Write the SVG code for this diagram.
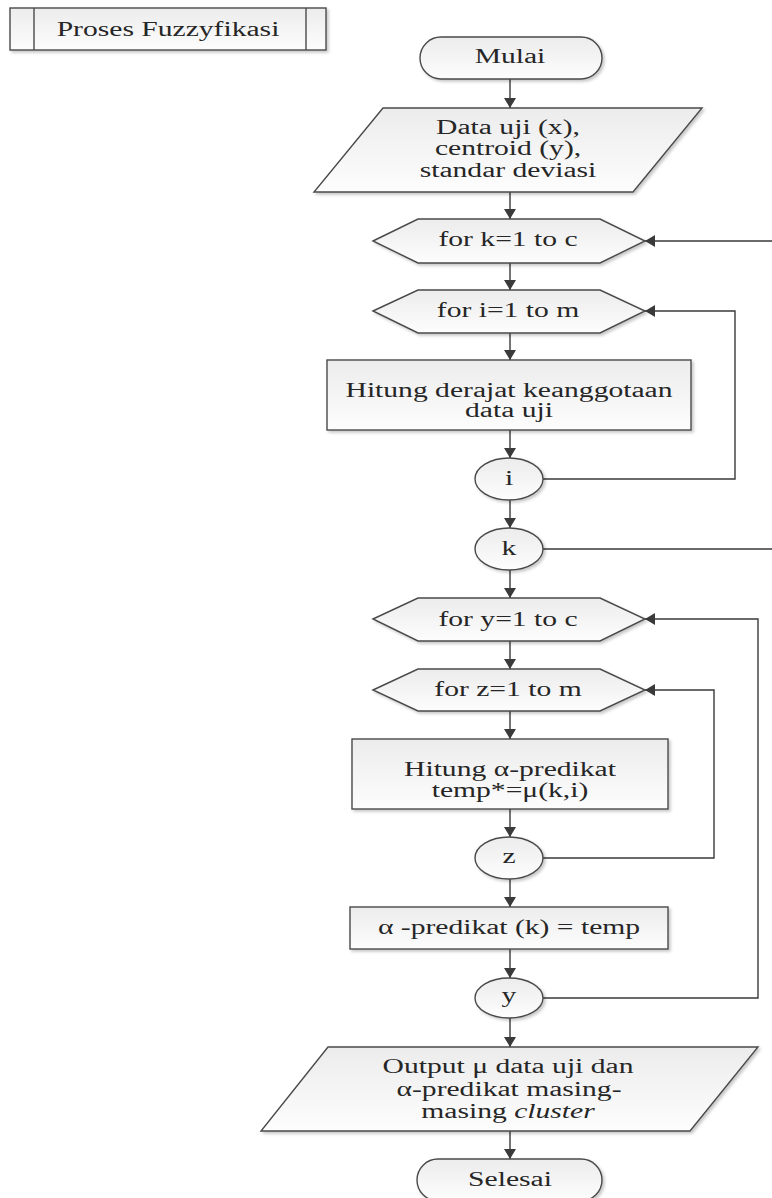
<svg xmlns="http://www.w3.org/2000/svg" width="772" height="1198" viewBox="0 0 772 1198">
<defs>
<linearGradient id="fillg" x1="0" y1="0" x2="0" y2="1">
<stop offset="0" stop-color="#ececec"/>
<stop offset="1" stop-color="#fdfdfd"/>
</linearGradient>
<filter id="sh" x="-10%" y="-20%" width="125%" height="150%">
<feDropShadow dx="2" dy="2" stdDeviation="1.5" flood-color="#000" flood-opacity="0.22"/>
</filter>
<marker id="arr" viewBox="0 0 10 12" refX="10" refY="6" markerWidth="10" markerHeight="12" markerUnits="userSpaceOnUse" orient="auto">
<path d="M0,0 L10,6 L0,12 z" fill="#3a3a3a"/>
</marker>
</defs>
<style>
.n{fill:url(#fillg);stroke:#4a4a4a;stroke-width:1.4;filter:url(#sh)}
.c{fill:none;stroke:#3a3a3a;stroke-width:1.4}
.t{font-family:"Liberation Serif","Times New Roman",serif;font-size:20px;fill:#262626;text-anchor:middle}
</style>
<rect width="772" height="1198" fill="#ffffff"/>

<g id="title">
<rect class="n" x="10" y="8" width="316" height="42"/>
<line x1="34" y1="8" x2="34" y2="50" stroke="#4a4a4a" stroke-width="1.4"/>
<line x1="306" y1="8" x2="306" y2="50" stroke="#4a4a4a" stroke-width="1.4"/>
<text class="t" transform="translate(168,36) scale(1.48,1)">Proses Fuzzyfikasi</text>
</g>

<g id="connectors">
<line class="c" x1="510" y1="79" x2="510" y2="108" marker-end="url(#arr)"/>
<line class="c" x1="510" y1="192" x2="510" y2="219" marker-end="url(#arr)"/>
<line class="c" x1="510" y1="263" x2="510" y2="290" marker-end="url(#arr)"/>
<line class="c" x1="510" y1="333" x2="510" y2="360" marker-end="url(#arr)"/>
<line class="c" x1="510" y1="430" x2="510" y2="458" marker-end="url(#arr)"/>
<line class="c" x1="510" y1="500" x2="510" y2="528" marker-end="url(#arr)"/>
<line class="c" x1="510" y1="570" x2="510" y2="598" marker-end="url(#arr)"/>
<line class="c" x1="510" y1="641" x2="510" y2="669" marker-end="url(#arr)"/>
<line class="c" x1="510" y1="711" x2="510" y2="739" marker-end="url(#arr)"/>
<line class="c" x1="510" y1="809" x2="510" y2="837" marker-end="url(#arr)"/>
<line class="c" x1="510" y1="879" x2="510" y2="907" marker-end="url(#arr)"/>
<line class="c" x1="510" y1="949" x2="510" y2="978" marker-end="url(#arr)"/>
<line class="c" x1="510" y1="1018" x2="510" y2="1047" marker-end="url(#arr)"/>
<line class="c" x1="510" y1="1131" x2="510" y2="1159" marker-end="url(#arr)"/>
<path class="c" d="M543,479 H735 V311 H645" marker-end="url(#arr)"/>
<path class="c" d="M543,549 H790 V241 H645" marker-end="url(#arr)"/>
<path class="c" d="M543,858 H714 V690 H645" marker-end="url(#arr)"/>
<path class="c" d="M543,998 H758 V619 H645" marker-end="url(#arr)"/>
</g>

<g id="mulai">
<rect class="n" x="420" y="37" width="182" height="42" rx="21"/>
<text class="t" transform="translate(510,63) scale(1.48,1)">Mulai</text>
</g>

<g id="input">
<polygon class="n" points="383,108 702,108 633,192 314,192"/>
<text class="t" transform="translate(508,134) scale(1.48,1)">Data uji (x),</text>
<text class="t" transform="translate(508,155) scale(1.48,1)">centroid (y),</text>
<text class="t" transform="translate(508,177) scale(1.48,1)">standar deviasi</text>
</g>

<g id="fork">
<polygon class="n" points="373,241 418,219 600,219 645,241 600,263 418,263"/>
<text class="t" transform="translate(508,246) scale(1.48,1)">for k=1 to c</text>
</g>

<g id="fori">
<polygon class="n" points="373,311 418,290 600,290 645,311 600,333 418,333"/>
<text class="t" transform="translate(508,317) scale(1.48,1)">for i=1 to m</text>
</g>

<g id="hitung1">
<rect class="n" x="327" y="360" width="364" height="70"/>
<text class="t" transform="translate(509,397) scale(1.48,1)">Hitung derajat keanggotaan</text>
<text class="t" transform="translate(509,417) scale(1.48,1)">data uji</text>
</g>

<g id="ci">
<ellipse class="n" cx="509" cy="479" rx="34" ry="21"/>
<text class="t" transform="translate(509,485) scale(1.48,1)">i</text>
</g>

<g id="ck">
<ellipse class="n" cx="509" cy="549" rx="34" ry="21"/>
<text class="t" transform="translate(509,555) scale(1.48,1)">k</text>
</g>

<g id="fory">
<polygon class="n" points="373,619 418,598 600,598 645,619 600,641 418,641"/>
<text class="t" transform="translate(508,626) scale(1.48,1)">for y=1 to c</text>
</g>

<g id="forz">
<polygon class="n" points="373,690 418,669 600,669 645,690 600,711 418,711"/>
<text class="t" transform="translate(508,696) scale(1.48,1)">for z=1 to m</text>
</g>

<g id="hitung2">
<rect class="n" x="352" y="739" width="316" height="70"/>
<text class="t" transform="translate(510,776) scale(1.48,1)">Hitung α-predikat</text>
<text class="t" transform="translate(510,797) scale(1.48,1)">temp*=μ(k,i)</text>
</g>

<g id="cz">
<ellipse class="n" cx="509" cy="858" rx="34" ry="21"/>
<text class="t" transform="translate(509,863) scale(1.48,1)">z</text>
</g>

<g id="alpha">
<rect class="n" x="350" y="907" width="318" height="42"/>
<text class="t" transform="translate(509,934) scale(1.48,1)">α -predikat (k) = temp</text>
</g>

<g id="cy">
<ellipse class="n" cx="509" cy="998" rx="34" ry="20"/>
<text class="t" transform="translate(509,1002) scale(1.48,1)">y</text>
</g>

<g id="output">
<polygon class="n" points="328,1047 758,1047 690,1131 261,1131"/>
<text class="t" transform="translate(508,1073) scale(1.48,1)">Output μ data uji dan</text>
<text class="t" transform="translate(509,1096) scale(1.48,1)">α-predikat masing-</text>
<text class="t" transform="translate(508,1118) scale(1.48,1)">masing <tspan font-style="italic">cluster</tspan></text>
</g>

<g id="selesai">
<rect class="n" x="417" y="1159" width="185" height="42" rx="21"/>
<text class="t" transform="translate(510,1186) scale(1.48,1)">Selesai</text>
</g>
</svg>
